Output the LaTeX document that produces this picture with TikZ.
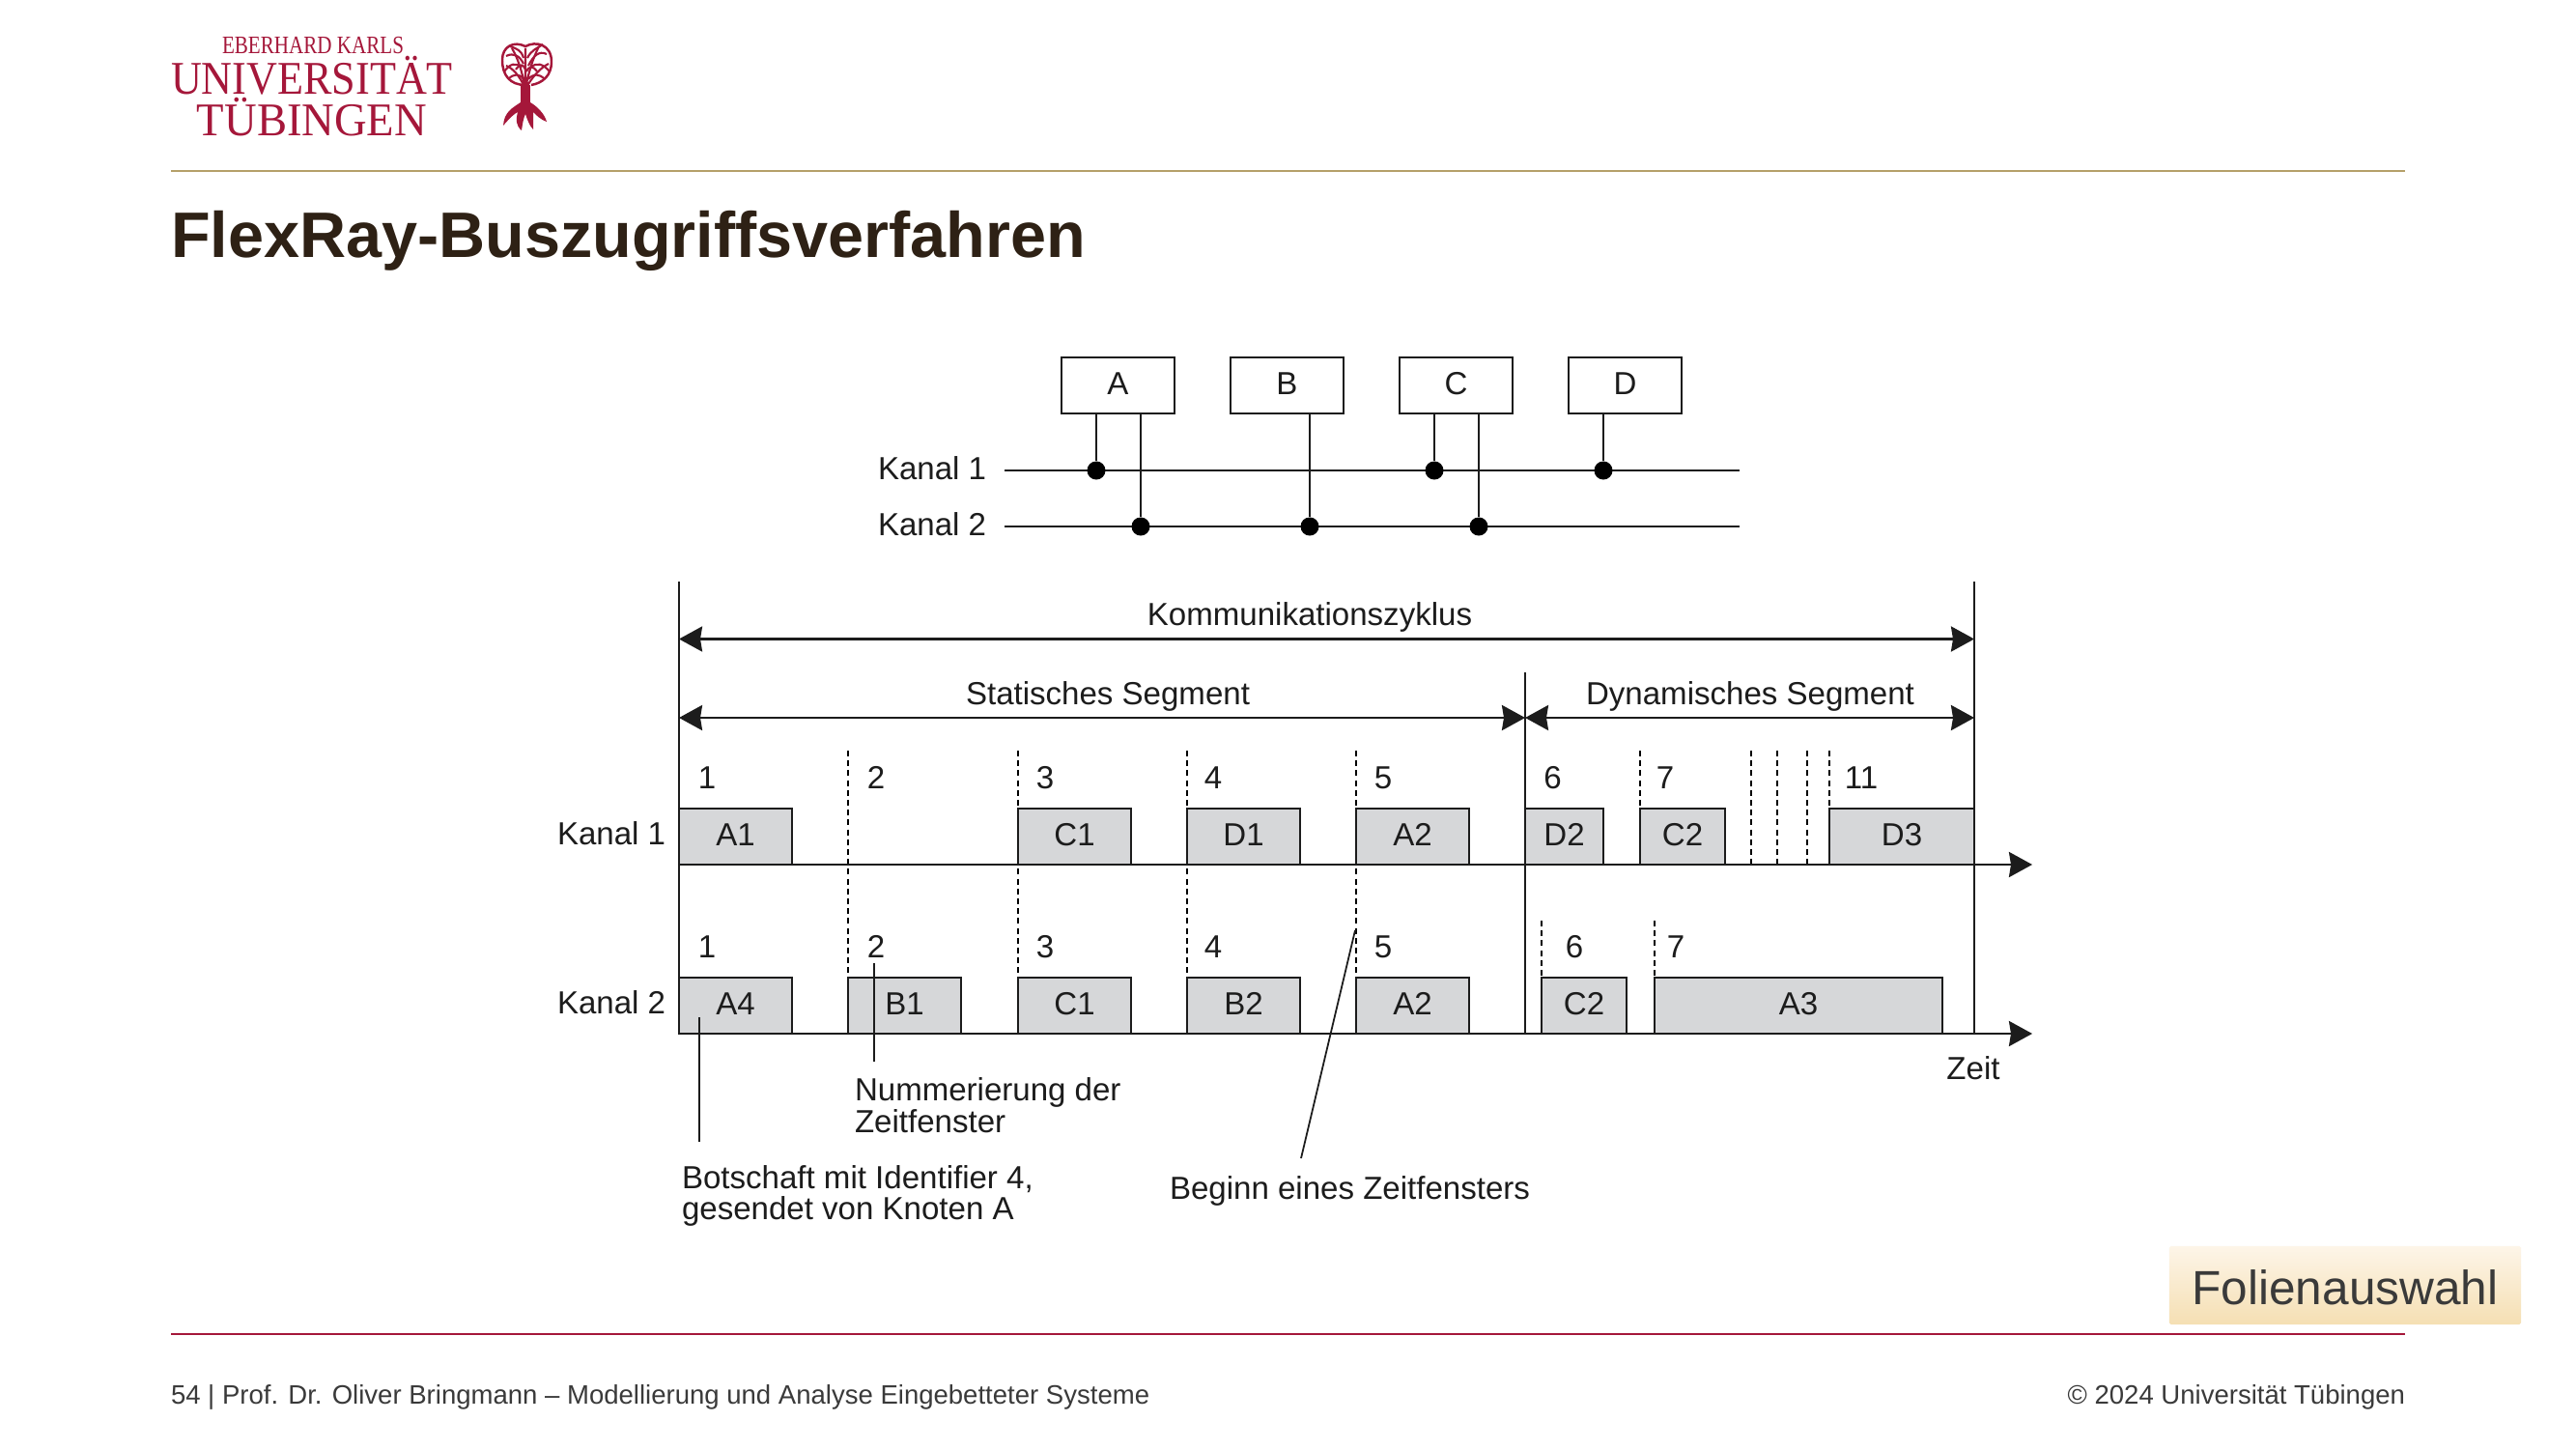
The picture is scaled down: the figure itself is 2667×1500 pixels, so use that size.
\documentclass[tikz,border=0pt]{standalone}
\usepackage{fontspec}
\setmainfont{Liberation Sans}
\newfontfamily\logofont{Liberation Serif}
\usetikzlibrary{arrows.meta}
\definecolor{logored}{HTML}{A5173A}
\definecolor{rulegold}{HTML}{B5A06A}
\definecolor{titlebrown}{HTML}{2E2115}
\definecolor{footgray}{HTML}{3A3A3A}
\definecolor{slotgray}{HTML}{D6D7D9}
\definecolor{inkblack}{HTML}{1C1C1C}
\definecolor{buttontop}{HTML}{FDF5E8}
\definecolor{buttonbot}{HTML}{F5DFB3}
\newcommand{\difont}{\fontsize{9.4}{9.5}\selectfont}
\tikzset{
	tip/.tip={Stealth[length=2.4mm, width=2.6mm, inset=0.2mm]},
	every node/.style={inner sep=0, outer sep=0, text=inkblack, font=\difont},
	stationbox/.style={draw=inkblack, line width=0.5pt, minimum width=1.17cm, minimum height=0.58cm, text depth=1pt},
	slotbox/.style={draw=inkblack, line width=0.6pt, fill=slotgray, anchor=south west, minimum height=0.58cm, text depth=1pt},
	busdot/.style={circle, fill=black, minimum size=0.19cm},
	busline/.style={draw=inkblack, line width=0.5pt},
	slotdash/.style={draw=black, line width=0.6pt, dash pattern=on 1.7pt off 1.2pt},
	spanarrow/.style={draw=inkblack, line width=0.7pt, tip-tip},
	axisarrow/.style={draw=inkblack, line width=0.7pt, -tip},
	logotext/.style={text=logored}
}
\begin{document}
\begin{tikzpicture}[x=0.01cm, y=-0.01cm]
	\useasboundingbox (0, 0) rectangle (2667, 1500);
	\fill[white] (0, 0) rectangle (2667, 1500);
	% slide frame
	\node[logotext, font=\logofont\fontsize{7.4}{8}\selectfont, xscale=0.81, anchor=base] (logoa) at (324, 56) {EBERHARD KARLS};
	\node[logotext, font=\logofont\fontsize{13.8}{14}\selectfont, xscale=0.91, anchor=base, text height=0.33cm] (logob) at (323, 98) {UNIVERSITÄT};
	\node[logotext, font=\logofont\fontsize{13.8}{14}\selectfont, xscale=0.96, anchor=base, text height=0.33cm] (logoc) at (323, 140) {TÜBINGEN};
	\draw[logored, line width=0.7pt] (544, 88) .. controls (528, 88) and (520, 78) .. (520, 62) .. controls (520, 48) and (532, 42) .. (544, 48) .. controls (555, 42) and (571, 46) .. (571, 64) .. controls (571, 78) and (562, 86) .. (550, 88);
	\draw[logored, line width=0.6pt] (544, 92) .. controls (538, 78) and (530, 70) .. (524, 68) (544, 92) .. controls (540, 72) and (536, 60) .. (530, 50) (544, 92) .. controls (544, 76) and (544, 62) .. (544, 50) (544, 92) .. controls (548, 72) and (552, 60) .. (558, 48) (544, 92) .. controls (552, 78) and (560, 70) .. (568, 66);
	\draw[logored, line width=0.6pt] (524, 58) .. controls (532, 54) and (538, 58) .. (542, 66) (534, 72) .. controls (538, 66) and (542, 66) .. (544, 72) (566, 56) .. controls (558, 52) and (552, 58) .. (547, 68) (556, 74) .. controls (552, 68) and (548, 68) .. (545, 74);
	\draw[logored, line width=0.6pt] (522, 74) .. controls (528, 66) and (534, 64) .. (540, 70) (528, 48) .. controls (534, 50) and (540, 52) .. (542, 60) (569, 74) .. controls (562, 66) and (556, 64) .. (549, 70) (562, 46) .. controls (556, 50) and (550, 52) .. (546, 60) (526, 82) .. controls (532, 76) and (538, 76) .. (542, 82) (564, 82) .. controls (558, 76) and (552, 76) .. (547, 82);
	\fill[logored] (539, 88) -- (549, 88) -- (549, 108) -- (539, 108) -- cycle;
	\fill[logored] (539, 106) .. controls (530, 112) and (522, 116) .. (521, 130) .. controls (528, 122) and (532, 118) .. (536, 116) .. controls (534, 124) and (534, 130) .. (540, 135) .. controls (541, 128) and (542, 122) .. (544, 118) .. controls (546, 124) and (548, 130) .. (552, 134) .. controls (552, 126) and (552, 120) .. (552, 116) .. controls (556, 120) and (560, 124) .. (566, 126) .. controls (564, 118) and (556, 110) .. (549, 106) -- cycle;
	\coordinate (goldl) at (177, 177);
	\coordinate (goldr) at (2490, 177);
	\draw[rulegold, line width=0.7pt] (goldl) -- (goldr);
	\node[anchor=base west, text=titlebrown, font=\fontsize{18.93}{20}\selectfont\bfseries] (slidetitle) at (177, 266) {FlexRay-Buszugriffsverfahren};
	\coordinate (redl) at (177, 1381);
	\coordinate (redr) at (2490, 1381);
	\draw[logored, line width=0.7pt] (redl) -- (redr);
	\node[anchor=base west, text=footgray, font=\fontsize{7.83}{8}\selectfont] (footl) at (177, 1453) {54 | Prof. Dr. Oliver Bringmann – Modellierung und Analyse Eingebetteter Systeme};
	\node[anchor=base east, text=footgray, font=\fontsize{7.83}{8}\selectfont] (footr) at (2490, 1453) {© 2024 Universität Tübingen};
	\node[top color=buttontop, bottom color=buttonbot, rounded corners=0.5pt, minimum width=3.64cm, minimum height=0.81cm, text height=0.41cm, text=footgray, font=\fontsize{14.1}{15}\selectfont] (folien) at (2428, 1330.5) {Folienauswahl};
	% stations on the two channels
	\node[stationbox] (stata) at (1157.5, 399) {A};
	\node[stationbox] (statb) at (1332.5, 399) {B};
	\node[stationbox] (statc) at (1507.5, 399) {C};
	\node[stationbox] (statd) at (1682.5, 399) {D};
	\node[anchor=west] (buslabela) at (909, 485) {Kanal 1};
	\node[anchor=west] (buslabelb) at (909, 543) {Kanal 2};
	\coordinate (busas) at (1040, 487);
	\coordinate (busae) at (1801, 487);
	\coordinate (busbs) at (1040, 545);
	\coordinate (busbe) at (1801, 545);
	\draw[busline] (busas) -- (busae);
	\draw[busline] (busbs) -- (busbe);
	\node[busdot] (dota) at (1135, 487) {};
	\node[busdot] (dotb) at (1181, 545) {};
	\node[busdot] (dotc) at (1356, 545) {};
	\node[busdot] (dotd) at (1485, 487) {};
	\node[busdot] (dote) at (1531, 545) {};
	\node[busdot] (dotf) at (1660, 487) {};
	\draw[busline] (stata.south -| dota) -- (dota);
	\draw[busline] (stata.south -| dotb) -- (dotb);
	\draw[busline] (statb.south -| dotc) -- (dotc);
	\draw[busline] (statc.south -| dotd) -- (dotd);
	\draw[busline] (statc.south -| dote) -- (dote);
	\draw[busline] (statd.south -| dotf) -- (dotf);
	% cycle borders and axes
	\coordinate (cyclea) at (703, 602);
	\coordinate (cycleb) at (2044, 602);
	\coordinate (segm) at (1579, 696);
	\coordinate (axisas) at (703, 895);
	\coordinate (axisae) at (2104, 895);
	\coordinate (axisbs) at (703, 1070);
	\coordinate (axisbe) at (2104, 1070);
	\draw[busline] (cyclea) -- (axisbs);
	\draw[busline] (cycleb) -- (cycleb |- axisbs);
	\draw[busline] (segm) -- (segm |- axisbs);
	% dashed slot borders
	\draw[slotdash] (878, 777) -- (878, 1012);
	\draw[slotdash] (1054, 777) -- (1054, 1012);
	\draw[slotdash] (1229, 777) -- (1229, 1012);
	\draw[slotdash] (1404, 777) -- (1404, 1012);
	\draw[slotdash] (1698, 777) -- (1698, 837);
	\draw[slotdash] (1813, 777) -- (1813, 895);
	\draw[slotdash] (1840, 777) -- (1840, 895);
	\draw[slotdash] (1871, 777) -- (1871, 895);
	\draw[slotdash] (1894, 777) -- (1894, 837);
	\draw[slotdash] (1596, 953) -- (1596, 1012);
	\draw[slotdash] (1713, 953) -- (1713, 1012);
	% slots, channel 1
	\node[slotbox, minimum width=1.17cm] (slotaa) at (703, 895) {A1};
	\node[slotbox, minimum width=1.17cm] (slotac) at (1054, 895) {C1};
	\node[slotbox, minimum width=1.17cm] (slotad) at (1229, 895) {D1};
	\node[slotbox, minimum width=1.17cm] (slotae) at (1404, 895) {A2};
	\node[slotbox, minimum width=0.81cm] (slotaf) at (1579, 895) {D2};
	\node[slotbox, minimum width=0.88cm] (slotag) at (1698, 895) {C2};
	\node[slotbox, minimum width=1.50cm] (slotak) at (1894, 895) {D3};
	% slots, channel 2
	\node[slotbox, minimum width=1.17cm] (slotba) at (703, 1070) {A4};
	\node[slotbox, minimum width=1.17cm] (slotbb) at (878, 1070) {B1};
	\node[slotbox, minimum width=1.17cm] (slotbc) at (1054, 1070) {C1};
	\node[slotbox, minimum width=1.17cm] (slotbd) at (1229, 1070) {B2};
	\node[slotbox, minimum width=1.17cm] (slotbe) at (1404, 1070) {A2};
	\node[slotbox, minimum width=0.88cm] (slotbf) at (1596, 1070) {C2};
	\node[slotbox, minimum width=2.98cm] (slotbg) at (1713, 1070) {A3};
	\draw[axisarrow] (axisas) -- (axisae);
	\draw[axisarrow] (axisbs) -- (axisbe);
	% spans
	\coordinate (spanas) at (703, 661.5);
	\coordinate (spanae) at (2044, 661.5);
	\coordinate (spanbs) at (703, 743);
	\coordinate (spanbm) at (1579, 743);
	\coordinate (spanbe) at (2044, 743);
	\draw[spanarrow] (spanas) -- (spanae);
	\draw[spanarrow] (spanbs) -- (spanbm);
	\draw[spanarrow] (spanbm) -- (spanbe);
	\node (cyclelabel) at (1356, 639) {Kommunikationszyklus};
	\node (statlabel) at (1147, 721) {Statisches Segment};
	\node (dynlabel) at (1812, 721) {Dynamisches Segment};
	% channel and slot labels
	\node[anchor=west] (chanlabela) at (577, 863) {Kanal 1};
	\node[anchor=west] (chanlabelb) at (577, 1038) {Kanal 2};
	\node (numaa) at (732, 805) {1};
	\node (numab) at (907, 805) {2};
	\node (numac) at (1082, 805) {3};
	\node (numad) at (1256, 805) {4};
	\node (numae) at (1432, 805) {5};
	\node (numaf) at (1607.5, 805) {6};
	\node (numag) at (1724, 805) {7};
	\node (numak) at (1927, 805) {11};
	\node (numba) at (732, 980) {1};
	\node (numbb) at (907, 980) {2};
	\node (numbc) at (1082, 980) {3};
	\node (numbd) at (1256, 980) {4};
	\node (numbe) at (1432, 980) {5};
	\node (numbf) at (1630, 980) {6};
	\node (numbg) at (1735, 980) {7};
	\node (timelabel) at (2043, 1106) {Zeit};
	% callouts
	\node[anchor=west, align=left, font=\fontsize{9.4}{9.2}\selectfont] (callnum) at (885, 1144) {Nummerierung der\\Zeitfenster};
	\node[anchor=west, align=left, font=\fontsize{9.4}{9.2}\selectfont] (callmsg) at (706, 1238) {Botschaft mit Identifier 4,\\gesendet von Knoten A};
	\node[anchor=west] (callbegin) at (1211, 1233) {Beginn eines Zeitfensters};
	\coordinate (leadera) at (724, 1053);
	\coordinate (leaderae) at (724, 1182);
	\coordinate (leaderb) at (905, 997);
	\coordinate (leaderbe) at (905, 1099);
	\coordinate (leaderc) at (1403, 963);
	\coordinate (leaderce) at (1347, 1199);
	\draw[busline] (leadera) -- (leaderae);
	\draw[busline] (leaderb) -- (leaderbe);
	\draw[busline] (leaderc) -- (leaderce);
\end{tikzpicture}
\end{document}
